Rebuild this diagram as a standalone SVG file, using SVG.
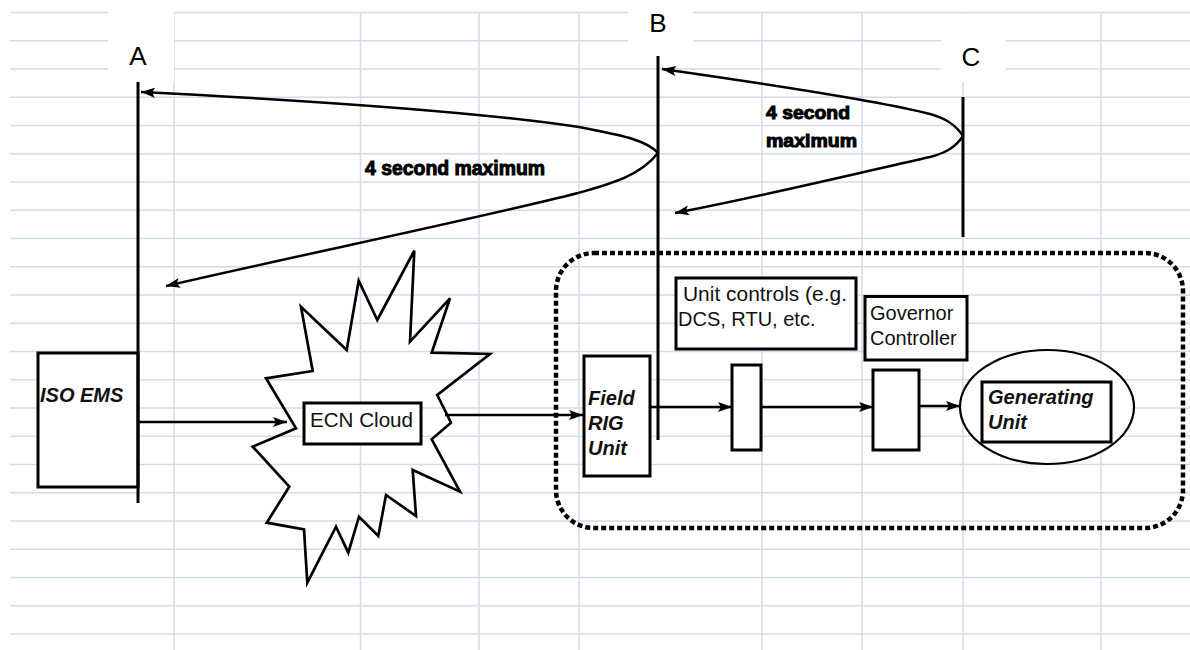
<svg xmlns="http://www.w3.org/2000/svg" width="1190" height="650" viewBox="0 0 1190 650">
<style>
.grid{stroke:#d3dae8;stroke-width:1.5;fill:none}
.tl{stroke:#000;stroke-width:3;fill:none}
.box{stroke:#000;stroke-width:3;fill:#fff}
.conn{stroke:#000;stroke-width:2.5;fill:none}
.lbl{font-family:"Liberation Sans",Arial,sans-serif;font-size:26px;fill:#000}
.t{font-family:"Liberation Sans",Arial,sans-serif;font-size:20px;fill:#111}
.bi{font-family:"Liberation Sans",Arial,sans-serif;font-size:20px;font-weight:bold;font-style:italic;fill:#111}
.hv{font-family:"Liberation Sans",Arial,sans-serif;font-weight:bold;fill:#000;stroke:#000;stroke-width:1}
</style>
<defs>
<marker id="ah" markerWidth="16" markerHeight="12" refX="14" refY="6" orient="auto" markerUnits="userSpaceOnUse"><path d="M0,1 L14,6 L0,11 L3,6 z" fill="#000"/></marker>
</defs>
<rect width="1190" height="650" fill="#fff"/>
<g id="grid" class="grid">
<path d="M10,12.5H1190M10,40.75H1190M10,69H1190M10,97.25H1190M10,125.5H1190M10,153.75H1190M10,182H1190M10,210.25H1190M10,238.5H1190M10,266.75H1190M10,295H1190M10,323.25H1190M10,351.5H1190M10,379.75H1190M10,408H1190M10,436.25H1190M10,464.5H1190M10,492.75H1190M10,521H1190M10,549.25H1190M10,577.5H1190M10,605.75H1190M10,634H1190"/>
<path d="M174,12.5V650M360.5,12.5V650M479,12.5V650M579,12.5V650M762,12.5V650M862,12.5V650M963,12.5V650M1101,12.5V650"/>
</g>
<g id="label-A"><rect x="108" y="0" width="66" height="82" fill="#fff"/><text class="lbl" x="138" y="65" text-anchor="middle">A</text></g>
<g id="label-B"><rect x="628" y="0" width="65" height="56" fill="#fff"/><text class="lbl" x="658" y="31.5" text-anchor="middle">B</text></g>
<g id="label-C"><rect x="941" y="14" width="65" height="68" fill="#fff"/><text class="lbl" x="971" y="66" text-anchor="middle">C</text></g>

<g id="boundary"><rect x="556" y="253" width="627" height="275" rx="38" ry="38" fill="none" stroke="#000" stroke-width="4.5" stroke-dasharray="5 3"/></g>

<g id="iso-ems"><rect class="box" x="38" y="353" width="100" height="134"/><text class="bi" x="40" y="401.5">ISO EMS</text></g>
<g id="ecn-cloud">
<polygon points="414.3,250.7 410,341.7 450,298.3 431.7,352.7 490,354 437.3,395 451,422.7 431.7,439.3 460,491.7 412.7,470 416,516 386,495 378.3,536 359,516.7 348.3,552.7 336,526.7 307.3,582.7 304,529.3 266.7,522.7 289.3,486.7 252.7,446.7 296,428.3 266,378.3 312.7,371 301,306.7 346.7,350 358.7,280.7 377.3,320" fill="none" stroke="#000" stroke-width="2.7" stroke-linejoin="miter"/>
<rect class="box" x="304" y="403" width="117" height="41"/>
<text class="t" x="310" y="426.5" textLength="103" lengthAdjust="spacingAndGlyphs">ECN Cloud</text>
</g>
<g id="field-rig"><rect class="box" x="584" y="356" width="66" height="120"/><text class="bi" x="588" y="404.5">Field</text><text class="bi" x="588" y="429.5">RIG</text><text class="bi" x="588" y="455">Unit</text></g>
<g id="unit-controls"><rect class="box" x="676" y="278" width="180" height="71"/><text class="t" x="683" y="301" textLength="164" lengthAdjust="spacingAndGlyphs">Unit controls (e.g.</text><text class="t" x="678" y="326">DCS, RTU, etc.</text></g>
<g id="unit-controls-block"><rect class="box" x="732" y="365" width="29" height="85"/></g>
<g id="governor"><rect class="box" x="865" y="296.5" width="102" height="63.5"/><text class="t" x="870" y="320">Governor</text><text class="t" x="870" y="345">Controller</text></g>
<g id="governor-block"><rect class="box" x="873" y="370" width="46" height="80"/></g>
<g id="generating-unit"><ellipse cx="1047" cy="407" rx="87" ry="57" fill="#fff" stroke="#000" stroke-width="2.2"/><rect class="box" x="982" y="382" width="129" height="60"/><text class="bi" x="988" y="404">Generating</text><text class="bi" x="988" y="429">Unit</text></g>

<g id="timelines">
<line class="tl" x1="138" y1="82" x2="138" y2="503"/>
<line class="tl" x1="658" y1="56" x2="658" y2="440"/>
<line class="tl" x1="963" y1="97" x2="963" y2="237"/>
</g>

<g id="connectors">
<path class="conn" marker-end="url(#ah)" d="M658,153 C645,138 610,133.5 579,127 C480,112 300,100 141,92"/>
<path class="conn" marker-end="url(#ah)" d="M658,153 C640,176 610,184 578,193 C480,218 300,255 166,286"/>
<path class="conn" marker-end="url(#ah)" d="M963,136 C955,124 945,118 930,114 C880,101 760,83 662,69"/>
<path class="conn" marker-end="url(#ah)" d="M963,136 C955,148 945,153 930,157 C880,168 760,197 675,213"/>
<line class="conn" x1="139" y1="422" x2="287" y2="422" marker-end="url(#ah)"/>
<line class="conn" x1="445" y1="415" x2="583" y2="415" marker-end="url(#ah)"/>
<line class="conn" x1="650" y1="407" x2="732" y2="407" marker-end="url(#ah)"/>
<line class="conn" x1="761" y1="407" x2="873" y2="407" marker-end="url(#ah)"/>
<line class="conn" x1="919" y1="406" x2="960" y2="406" marker-end="url(#ah)"/>
</g>
<g id="labels">
<text class="hv" x="365" y="174.5" font-size="20" textLength="180" lengthAdjust="spacingAndGlyphs">4 second maximum</text>
<text class="hv" x="766" y="119" font-size="18" textLength="84" lengthAdjust="spacingAndGlyphs">4 second</text>
<text class="hv" x="766" y="147" font-size="18" textLength="91" lengthAdjust="spacingAndGlyphs">maximum</text>
</g>
</svg>
